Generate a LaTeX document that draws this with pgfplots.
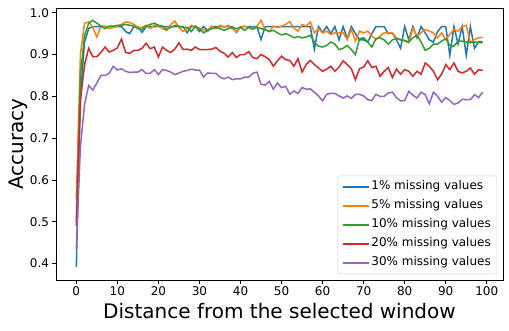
\documentclass[border=0pt]{standalone}
\usepackage{fontspec}
\setmainfont{DejaVu Sans}
\usepackage{pgfplots}
\usepackage{pgfplotstable}
\pgfplotsset{compat=1.18}
\usetikzlibrary{calc}
\definecolor{tabblue}{HTML}{1F77B4}
\definecolor{taborange}{HTML}{FF7F0E}
\definecolor{tabgreen}{HTML}{2CA02C}
\definecolor{tabred}{HTML}{D62728}
\definecolor{tabpurple}{HTML}{9467BD}

% x = distance, one column per missing-value rate
\pgfplotstableread{
x a b c d e
0 0.392 0.555 0.500 0.490 0.435
1 0.800 0.900 0.850 0.790 0.680
2 0.930 0.975 0.945 0.875 0.780
3 0.962 0.978 0.975 0.915 0.826
4 0.967 0.965 0.982 0.895 0.815
5 0.967 0.942 0.975 0.895 0.832
6 0.967 0.968 0.968 0.905 0.850
7 0.967 0.968 0.962 0.918 0.850
8 0.967 0.962 0.968 0.906 0.855
9 0.967 0.965 0.968 0.910 0.872
10 0.967 0.968 0.970 0.916 0.863
11 0.967 0.972 0.970 0.937 0.866
12 0.955 0.978 0.972 0.905 0.860
13 0.950 0.977 0.970 0.903 0.857
14 0.967 0.972 0.968 0.910 0.858
15 0.967 0.965 0.962 0.910 0.858
16 0.953 0.965 0.960 0.915 0.864
17 0.967 0.970 0.968 0.927 0.855
18 0.967 0.962 0.972 0.914 0.855
19 0.967 0.970 0.975 0.918 0.864
20 0.967 0.968 0.970 0.894 0.852
21 0.967 0.962 0.968 0.918 0.864
22 0.967 0.958 0.960 0.910 0.862
23 0.967 0.972 0.965 0.905 0.858
24 0.967 0.980 0.970 0.913 0.852
25 0.967 0.965 0.968 0.928 0.856
26 0.967 0.955 0.965 0.912 0.860
27 0.952 0.962 0.965 0.913 0.862
28 0.967 0.970 0.955 0.910 0.865
29 0.967 0.966 0.968 0.918 0.863
30 0.955 0.962 0.962 0.912 0.863
31 0.967 0.960 0.952 0.912 0.846
32 0.958 0.955 0.958 0.912 0.856
33 0.967 0.968 0.962 0.913 0.855
34 0.967 0.962 0.965 0.917 0.855
35 0.967 0.970 0.962 0.908 0.846
36 0.967 0.965 0.958 0.903 0.842
37 0.967 0.970 0.962 0.894 0.846
38 0.967 0.962 0.965 0.905 0.840
39 0.953 0.955 0.962 0.893 0.842
40 0.967 0.965 0.965 0.900 0.842
41 0.967 0.968 0.958 0.900 0.846
42 0.967 0.965 0.965 0.907 0.846
43 0.967 0.960 0.962 0.893 0.855
44 0.967 0.968 0.965 0.890 0.858
45 0.936 0.982 0.962 0.900 0.829
46 0.967 0.960 0.960 0.895 0.827
47 0.967 0.955 0.955 0.888 0.836
48 0.967 0.968 0.958 0.872 0.817
49 0.967 0.965 0.952 0.885 0.832
50 0.967 0.968 0.947 0.896 0.821
51 0.967 0.972 0.950 0.888 0.824
52 0.967 0.979 0.946 0.886 0.805
53 0.967 0.963 0.940 0.872 0.813
54 0.967 0.956 0.943 0.890 0.807
55 0.967 0.972 0.940 0.858 0.821
56 0.967 0.968 0.942 0.876 0.817
57 0.967 0.978 0.946 0.886 0.818
58 0.913 0.952 0.930 0.876 0.810
59 0.967 0.962 0.920 0.868 0.801
60 0.953 0.952 0.918 0.860 0.789
61 0.967 0.956 0.922 0.865 0.805
62 0.950 0.948 0.930 0.872 0.807
63 0.967 0.952 0.925 0.860 0.807
64 0.935 0.952 0.912 0.870 0.801
65 0.967 0.952 0.915 0.885 0.796
66 0.938 0.936 0.922 0.876 0.801
67 0.967 0.960 0.912 0.866 0.795
68 0.950 0.932 0.900 0.840 0.805
69 0.935 0.956 0.938 0.866 0.805
70 0.935 0.952 0.940 0.870 0.801
71 0.930 0.956 0.930 0.885 0.792
72 0.950 0.944 0.918 0.869 0.790
73 0.967 0.936 0.938 0.872 0.805
74 0.967 0.944 0.940 0.848 0.800
75 0.967 0.952 0.935 0.860 0.800
76 0.950 0.952 0.925 0.869 0.808
77 0.952 0.952 0.935 0.845 0.810
78 0.935 0.940 0.938 0.865 0.797
79 0.915 0.936 0.935 0.853 0.789
80 0.967 0.932 0.934 0.864 0.790
81 0.935 0.928 0.930 0.860 0.812
82 0.967 0.963 0.940 0.848 0.803
83 0.940 0.944 0.946 0.860 0.796
84 0.967 0.952 0.930 0.853 0.810
85 0.952 0.960 0.910 0.880 0.804
86 0.935 0.956 0.915 0.872 0.782
87 0.930 0.952 0.925 0.860 0.810
88 0.955 0.940 0.925 0.840 0.800
89 0.967 0.952 0.932 0.853 0.786
90 0.967 0.936 0.938 0.876 0.797
91 0.898 0.948 0.922 0.864 0.790
92 0.967 0.960 0.920 0.880 0.781
93 0.925 0.956 0.932 0.860 0.784
94 0.967 0.967 0.932 0.856 0.793
95 0.898 0.970 0.930 0.860 0.792
96 0.967 0.928 0.930 0.868 0.792
97 0.915 0.936 0.930 0.853 0.804
98 0.931 0.940 0.929 0.864 0.797
99 0.931 0.941 0.928 0.862 0.810
}\acc

\begin{document}
\begin{tikzpicture}
\begin{axis}[
  scale only axis,
  width=447pt, height=272pt,
  xmin=-4.95, xmax=103.95, ymin=0.3606, ymax=1.0114,
  xtick={0,10,...,100},
  ytick={0.4,0.5,...,1.0},
  yticklabel style={/pgf/number format/.cd, fixed, fixed zerofill, precision=1},
  /pgf/number format/assume math mode=true,
  tick label style={font=\fontsize{12}{14}\selectfont},
  label style={font=\fontsize{20}{24}\selectfont},
  xlabel={Distance from the selected window},
  ylabel={Accuracy},
  xlabel style={yshift=0pt},
  ylabel style={yshift=-5pt},
  tick align=outside, xtick pos=bottom, ytick pos=left,
  major tick length=3.5pt,
  tick style={black, line width=0.8pt},
  axis line style={line width=0.8pt},
  legend cell align=left,
  legend image code/.code={\draw[#1, line width=1.5pt] (0pt,0pt) -- (26pt,0pt);},
  legend style={at={(0.9866,0.022)}, anchor=south east, draw=black!20,
    rounded corners=2pt, font=\fontsize{12}{14}\selectfont,
    inner xsep=4pt, inner ysep=3pt, row sep=3pt,
    nodes={inner sep=2pt, text height=9pt, text depth=3pt}},
]
\addplot[tabblue, line width=1.5pt] table[x=x, y=a] {\acc};
\addlegendentry{1\% missing values}
\addplot[taborange, line width=1.5pt] table[x=x, y=b] {\acc};
\addlegendentry{5\% missing values}
\addplot[tabgreen, line width=1.5pt] table[x=x, y=c] {\acc};
\addlegendentry{10\% missing values}
\addplot[tabred, line width=1.5pt] table[x=x, y=d] {\acc};
\addlegendentry{20\% missing values}
\addplot[tabpurple, line width=1.5pt] table[x=x, y=e] {\acc};
\addlegendentry{30\% missing values}
\end{axis}
\pgfresetboundingbox
\path[use as bounding box] (-56pt,-50pt) rectangle (453pt,280pt);
\end{tikzpicture}
\end{document}
